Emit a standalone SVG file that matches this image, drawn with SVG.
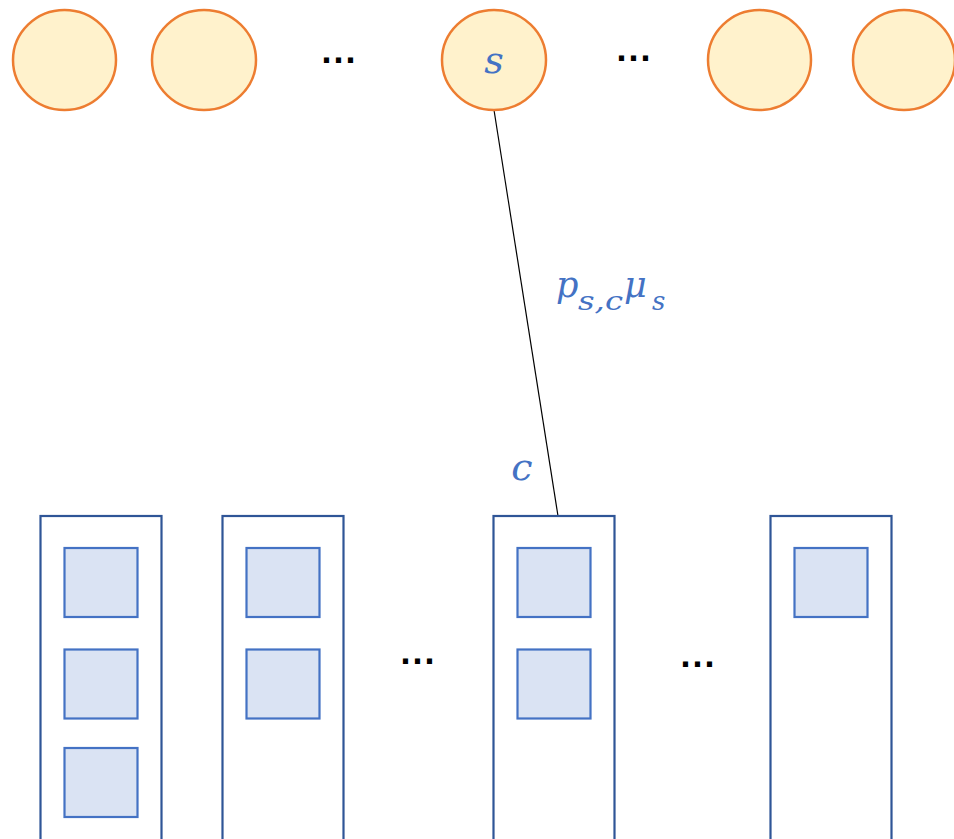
<svg xmlns="http://www.w3.org/2000/svg" width="954" height="839" viewBox="0 0 954 839">
  <style>
    .src { fill: #FFF2CC; stroke: #ED7D31; stroke-width: 2.5; }
    .col { fill: #FFFFFF; stroke: #2F5597; stroke-width: 2.2; }
    .item { fill: #DAE3F3; stroke: #4472C4; stroke-width: 2.2; }
    .math { font-family: "DejaVu Serif", "Liberation Serif", serif; font-style: italic; fill: #4472C4; }
    .dots { font-family: "Liberation Sans", Arial, sans-serif; font-weight: bold; font-size: 36px; letter-spacing: 2px; fill: #000000; }
    .edge { stroke: #000000; stroke-width: 1.2; fill: none; }
  </style>
  <rect width="954" height="839" fill="#FFFFFF"/>

  <!-- connectors -->
  <g id="connectors">
    <line class="edge" x1="494" y1="110" x2="558" y2="516"/>
    <text class="math" font-size="35"><tspan x="556" y="297">p</tspan><tspan x="578" y="310" font-size="26" textLength="45" lengthAdjust="spacingAndGlyphs">s,c</tspan><tspan x="624" y="297">μ</tspan><tspan x="652" y="310" font-size="26">s</tspan></text>
  </g>

  <!-- source nodes -->
  <g id="source-1"><ellipse class="src" cx="64.5" cy="60" rx="51.5" ry="50"/></g>
  <g id="source-2"><ellipse class="src" cx="204" cy="60" rx="52" ry="50"/></g>
  <g id="source-dots-left"><text class="dots" x="321.5" y="63">...</text></g>
  <g id="source-s">
    <ellipse class="src" cx="494" cy="60" rx="52" ry="50"/>
    <text class="math" x="494" y="73" font-size="38" text-anchor="middle">s</text>
  </g>
  <g id="source-dots-right"><text class="dots" x="616.5" y="61">...</text></g>
  <g id="source-4"><ellipse class="src" cx="759.5" cy="60" rx="51.5" ry="50"/></g>
  <g id="source-5"><ellipse class="src" cx="904" cy="60" rx="51" ry="50"/></g>

  <!-- containers -->
  <g id="column-1">
    <rect class="col" x="40.5" y="516" width="121" height="330"/>
    <rect class="item" x="64.5" y="548" width="73" height="69"/>
    <rect class="item" x="64.5" y="649.5" width="73" height="69"/>
    <rect class="item" x="64.5" y="748" width="73" height="69"/>
  </g>
  <g id="column-2">
    <rect class="col" x="222.5" y="516" width="121" height="330"/>
    <rect class="item" x="246.5" y="548" width="73" height="69"/>
    <rect class="item" x="246.5" y="649.5" width="73" height="69"/>
  </g>
  <g id="column-dots-left"><text class="dots" x="400.5" y="664">...</text></g>
  <g id="column-c">
    <rect class="col" x="493.5" y="516" width="121" height="330"/>
    <rect class="item" x="517.5" y="548" width="73" height="69"/>
    <rect class="item" x="517.5" y="649.5" width="73" height="69"/>
    <text class="math" x="522" y="480" font-size="38" text-anchor="middle">c</text>
  </g>
  <g id="column-dots-right"><text class="dots" x="680.5" y="667">...</text></g>
  <g id="column-4">
    <rect class="col" x="770.5" y="516" width="121" height="330"/>
    <rect class="item" x="794.5" y="548" width="73" height="69"/>
  </g>
</svg>
